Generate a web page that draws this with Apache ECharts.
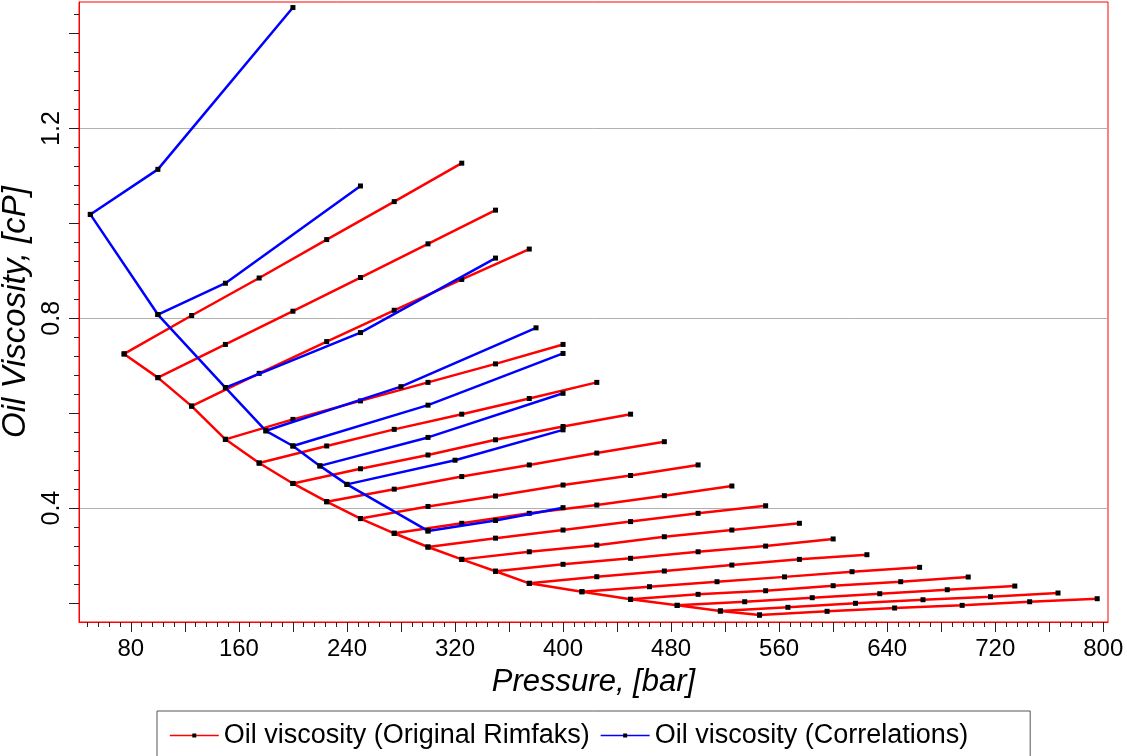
<!DOCTYPE html>
<html>
<head>
<meta charset="utf-8">
<script src="https://cdn.jsdelivr.net/npm/echarts@6/dist/echarts.min.js"></script>
<style>
  html, body { margin: 0; padding: 0; background: #fff; }
  #chart { width: 1127px; height: 756px; }
</style>
</head>
<body>
<div id="chart"></div>
<script>
// ---------------- DATA ----------------
const RED_NAME = 'Oil viscosity (Original Rimfaks)';
const BLUE_NAME = 'Oil viscosity (Correlations)';

// Saturated curve (Original Rimfaks): [pressure bar, viscosity cP]
const redSaturated = [[75,0.725],[100,0.675],[125,0.615],[150,0.545],[175,0.495],[200,0.452],[225,0.4135],[250,0.378],[275,0.347],[300,0.318],[325,0.292],[350,0.267],[375,0.2415],[414,0.2238],[450,0.2078],[484.5,0.1951],[516.5,0.1832],[545.5,0.1747]];

// Undersaturated branches (Original Rimfaks)
const redBranch01 = [[75,0.725],[125,0.806],[175,0.885],[225,0.966],[275,1.046],[325,1.127]];
const redBranch02 = [[100,0.675],[150,0.745],[200,0.815],[250,0.886],[300,0.957],[350,1.028]];
const redBranch03 = [[125,0.615],[175,0.684],[225,0.751],[275,0.817],[325,0.882],[375,0.946]];
const redBranch04 = [[150,0.545],[200,0.587],[250,0.626],[300,0.665],[350,0.704],[400,0.745]];
const redBranch05 = [[175,0.495],[225,0.531],[275,0.566],[325,0.598],[375,0.631],[425,0.665]];
const redBranch06 = [[200,0.452],[250,0.483],[300,0.512],[350,0.544],[400,0.572],[450,0.598]];
const redBranch07 = [[225,0.4135],[275,0.440],[325,0.4665],[375,0.491],[425,0.516],[475,0.540]];
const redBranch08 = [[250,0.378],[300,0.4035],[350,0.4255],[400,0.4487],[450,0.4688],[500,0.491]];
const redBranch09 = [[275,0.347],[325,0.368],[375,0.389],[425,0.4065],[475,0.4262],[525,0.4466]];
const redBranch10 = [[300,0.318],[350,0.3367],[400,0.3538],[450,0.3716],[500,0.389],[550,0.405]];
const redBranch11 = [[325,0.292],[375,0.308],[425,0.322],[475,0.3397],[525,0.3538],[575,0.368]];
const redBranch12 = [[350,0.267],[400,0.2816],[450,0.2942],[500,0.308],[550,0.320],[600,0.335]];
const redBranch13 = [[375,0.2415],[425,0.2554],[475,0.2674],[525,0.280],[575,0.292],[625,0.3018]];
const redBranch14 = [[414,0.2238],[464,0.2344],[514,0.2449],[564,0.2551],[614,0.266],[664,0.2752]];
const redBranch15 = [[450,0.2078],[500,0.2183],[550,0.2259],[600,0.2365],[650,0.2449],[700,0.2548]];
const redBranch16 = [[484.5,0.1951],[534.5,0.2027],[584.5,0.2112],[634.5,0.2196],[684.5,0.228],[734.5,0.2358]];
const redBranch17 = [[516.5,0.1832],[566.5,0.1909],[616.5,0.1994],[666.5,0.2069],[716.5,0.2133],[766.5,0.2211]];
const redBranch18 = [[545.5,0.1747],[595.5,0.1825],[645.5,0.1895],[695.5,0.1951],[745.5,0.2027],[795.5,0.2091]];

// Saturated curve (Correlations)
const blueSaturated = [[50,1.019],[100,0.808],[150,0.654],[180,0.563],[200,0.531],[220,0.489],[240,0.450],[300,0.352]];

// Undersaturated branches (Correlations)
const blueBranch1 = [[50,1.019],[100,1.114],[200,1.455]];
const blueBranch2 = [[100,0.808],[150,0.874],[250,1.079]];
const blueBranch3 = [[150,0.654],[250,0.770],[350,0.927]];
const blueBranch4 = [[180,0.563],[280,0.656],[380,0.780]];
const blueBranch5 = [[200,0.531],[300,0.617],[400,0.726]];
const blueBranch6 = [[220,0.489],[300,0.549],[400,0.642]];
const blueBranch7 = [[240,0.450],[320,0.501],[400,0.565]];
const blueBranch8 = [[300,0.352],[350,0.374],[400,0.401]];

// Tick labels
const xTickLabels = [80,160,240,320,400,480,560,640,720,800];
const yTickLabels = [0.4,0.8,1.2];

// ---------------- LAYOUT ----------------
const X_MIN = 41.6, X_MAX = 803.5;
const Y_MIN = 0.16, Y_MAX = 1.4667;

const xMajor = [], xMinor = [];
for (let v = 48; v <= 800; v += 8) { (v % 40 === 0 ? xMajor : xMinor).push(v); }
const yMajor = [], yMinor = [];
for (let i = 5; i <= 36; i++) {
  const v = Math.round(i * 4) / 100;
  (i % 5 === 0 ? yMajor : yMinor).push(v);
}

const FONT = "'Liberation Sans', Arial, sans-serif";
const RED = '#ff0000', BLUE = '#0000ff';
const redLines = [redSaturated, redBranch01, redBranch02, redBranch03, redBranch04, redBranch05, redBranch06, redBranch07, redBranch08, redBranch09, redBranch10, redBranch11, redBranch12, redBranch13, redBranch14, redBranch15, redBranch16, redBranch17, redBranch18];
const blueLines = [blueSaturated, blueBranch1, blueBranch2, blueBranch3, blueBranch4, blueBranch5, blueBranch6, blueBranch7, blueBranch8];

function mkSeries(name, color, data, z) {
  return {
    name: name, type: 'line', data: data, z: z,
    xAxisIndex: 0, yAxisIndex: 0,
    symbol: 'rect', symbolSize: 5, showSymbol: true, showAllSymbol: true,
    itemStyle: { color: '#000' },
    lineStyle: { color: color, width: 2.5 },
    emphasis: { disabled: true },
    silent: true, animation: false
  };
}
const series = [];
redLines.forEach(d => series.push(mkSeries(RED_NAME, RED, d, 2)));
blueLines.forEach(d => series.push(mkSeries(BLUE_NAME, BLUE, d, 3)));

const tickColor = '#222';
const option = {
  backgroundColor: '#fff',
  animation: false,
  grid: { left: 79, top: 2, width: 1029, height: 620, show: true, borderColor: RED, borderWidth: 1, backgroundColor: 'transparent', containLabel: false, outerBoundsMode: 'none' },
  legend: {
    data: [
      { name: RED_NAME, lineStyle: { color: RED, width: 1.6 } },
      { name: BLUE_NAME, lineStyle: { color: BLUE, width: 1.6 } }
    ],
    left: 157, top: 711,
    orient: 'horizontal',
    padding: [11, 62, 22, 12],
    itemWidth: 49, itemHeight: 5, itemGap: 10,
    borderColor: '#555', borderWidth: 1,
    backgroundColor: '#fff',
    textStyle: { fontFamily: FONT, fontSize: 27, color: '#000' },
    selectedMode: false
  },
  xAxis: [
    {
      type: 'value', position: 'bottom', min: X_MIN, max: X_MAX,
      name: 'Pressure, [bar]', nameLocation: 'middle', nameGap: 45,
      nameTextStyle: { fontFamily: FONT, fontSize: 31, fontStyle: 'italic', color: '#000' },
      axisLine: { show: true, lineStyle: { color: RED, width: 1 } },
      axisTick: { show: true, length: 10, customValues: xMajor, lineStyle: { color: tickColor, width: 1 } },
      axisLabel: { show: true, customValues: xTickLabels, margin: 15, fontFamily: FONT, fontSize: 24, color: '#000', formatter: v => String(v) },
      splitLine: { show: false }
    },
    {
      type: 'value', position: 'bottom', min: X_MIN, max: X_MAX,
      axisLine: { show: false },
      axisTick: { show: true, length: 5, customValues: xMinor, lineStyle: { color: tickColor, width: 1 } },
      axisLabel: { show: false },
      splitLine: { show: false }
    }
  ],
  yAxis: [
    {
      type: 'value', position: 'left', min: Y_MIN, max: Y_MAX,
      name: 'Oil Viscosity, [cP]', nameLocation: 'middle', nameGap: 44,
      nameTextStyle: { fontFamily: FONT, fontSize: 33, fontStyle: 'italic', color: '#000' },
      axisLine: { show: true, lineStyle: { color: RED, width: 1 } },
      axisTick: { show: false, customValues: yTickLabels },
      axisLabel: { show: true, customValues: yTickLabels, rotate: 90, margin: 14, fontFamily: FONT, fontSize: 25, color: '#000', formatter: v => v.toFixed(1) },
      splitLine: { show: true, lineStyle: { color: '#b0b0b0', width: 1 } }
    },
    {
      type: 'value', position: 'left', min: Y_MIN, max: Y_MAX,
      axisLine: { show: false },
      axisTick: { show: true, length: 10, customValues: yMajor, lineStyle: { color: tickColor, width: 1 } },
      axisLabel: { show: false },
      splitLine: { show: false }
    },
    {
      type: 'value', position: 'left', min: Y_MIN, max: Y_MAX,
      axisLine: { show: false },
      axisTick: { show: true, length: 5, customValues: yMinor, lineStyle: { color: tickColor, width: 1 } },
      axisLabel: { show: false },
      splitLine: { show: false }
    }
  ],
  series: series
};

const chart = echarts.init(document.getElementById('chart'), null, { renderer: 'canvas' });
chart.setOption(option);
</script>
</body>
</html>
